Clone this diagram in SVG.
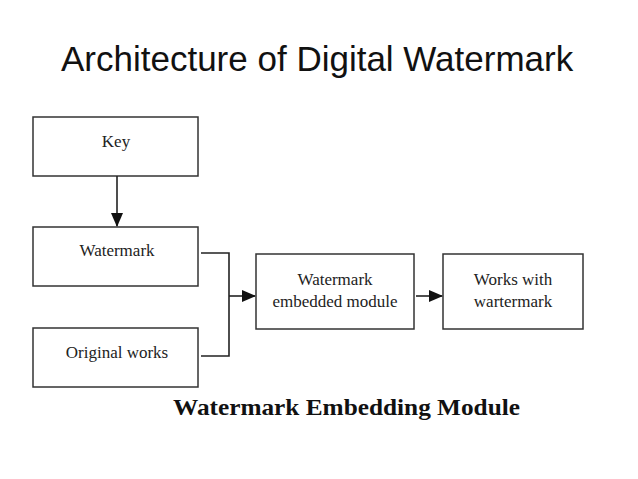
<svg xmlns="http://www.w3.org/2000/svg" width="638" height="479" viewBox="0 0 638 479">
<style>
.box{fill:#fff;stroke:#333;stroke-width:1.5}
.lbl{font-family:"Liberation Serif","Times New Roman",serif;font-size:17px;fill:#222;text-anchor:middle}
.line{fill:none;stroke:#222;stroke-width:1.6}
</style>
<defs>
<marker id="arr" markerWidth="14" markerHeight="12" refX="13" refY="6" orient="auto" markerUnits="userSpaceOnUse">
<path d="M0,0 L14,6 L0,12 Z" fill="#111"/>
</marker>
</defs>
<rect width="638" height="479" fill="#fff"/>
<text x="61" y="71" font-family="'Liberation Sans',Arial,sans-serif" font-size="35" fill="#111">Architecture of Digital Watermark</text>
<g id="key"><rect class="box" x="33" y="117" width="165" height="59"/><text class="lbl" x="116" y="147">Key</text></g>
<g id="watermark"><rect class="box" x="33" y="227" width="165" height="59"/><text class="lbl" x="117" y="256">Watermark</text></g>
<g id="original"><rect class="box" x="33" y="328" width="165" height="59"/><text class="lbl" x="117" y="358">Original works</text></g>
<g id="module"><rect class="box" x="256" y="254" width="158" height="75"/><text class="lbl" x="335" y="285">Watermark</text><text class="lbl" x="335" y="307">embedded module</text></g>
<g id="works"><rect class="box" x="443" y="254" width="140" height="75"/><text class="lbl" x="513" y="285">Works with</text><text class="lbl" x="513" y="307">wartermark</text></g>
<g id="connectors">
<line class="line" x1="117" y1="176" x2="117" y2="226" marker-end="url(#arr)"/>
<polyline class="line" points="201,253 229,253 229,356 201,356"/>
<line class="line" x1="229" y1="296" x2="255" y2="296" marker-end="url(#arr)"/>
<line class="line" x1="416" y1="296" x2="442" y2="296" marker-end="url(#arr)"/>
</g>
<text x="173" y="415" font-family="'Liberation Serif','Times New Roman',serif" font-size="24" font-weight="bold" fill="#111" textLength="347" lengthAdjust="spacingAndGlyphs">Watermark Embedding Module</text>
</svg>
